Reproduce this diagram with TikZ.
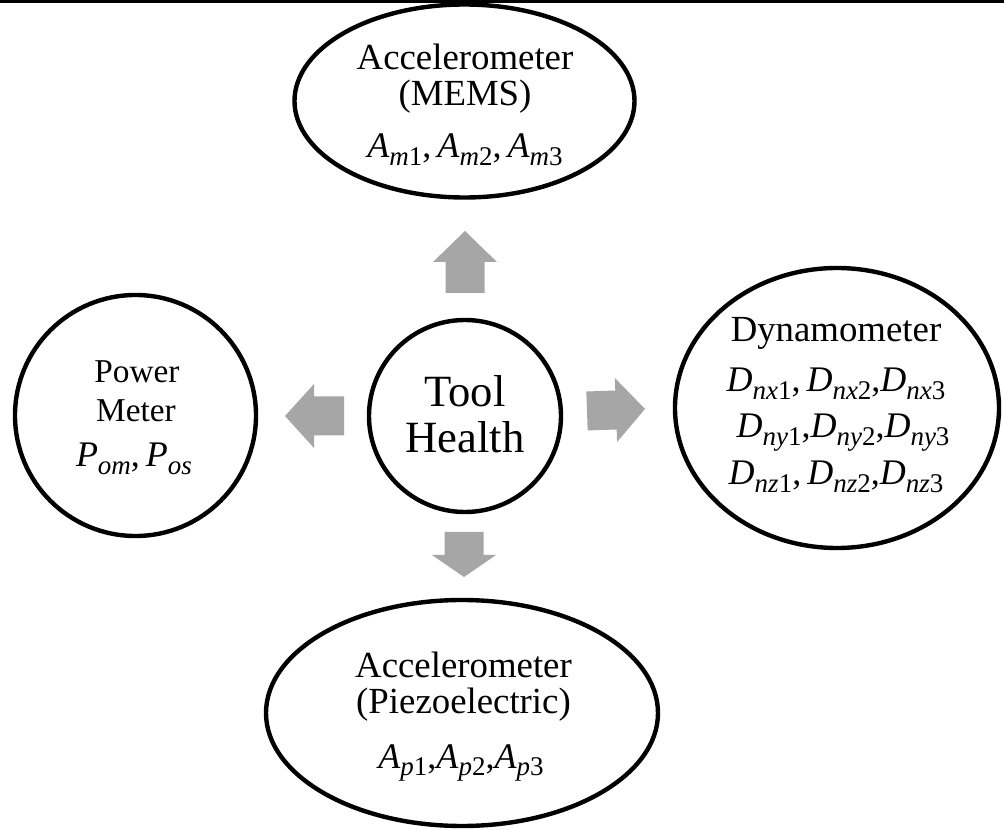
\documentclass[tikz,border=0pt]{standalone}
\usepackage{fontspec}
\usepackage{graphicx}
\setmainfont{Liberation Serif}
\usetikzlibrary{shapes.geometric}
\definecolor{arrowgray}{RGB}{166,166,166}
\newcommand\V[3]{\textit{#1}\raisebox{-0.2em}{\scalebox{0.75}{\textit{#2}#3}}}
\tikzset{
  ring/.style={draw, line width=3.3pt, inner sep=0pt},
  oval/.style={ring, ellipse},
  rnd/.style={ring, circle},
  lbl/.style={anchor=base, inner sep=0pt, font=\fontsize{27.6}{30}\selectfont},
  mlbl/.style={anchor=base, inner sep=0pt, font=\fontsize{27}{30}\selectfont},
  biglbl/.style={anchor=base, inner sep=0pt, font=\fontsize{33.5}{36}\selectfont},
  pmlbl/.style={anchor=base, inner sep=0pt, font=\fontsize{25}{28}\selectfont},
  pics/barrow/.style 2 args={code={
    \fill[arrowgray] (0,-19.5) -- ({#1-#2},-19.5) -- ({#1-#2},-32) -- (#1,0)
      -- ({#1-#2},32) -- ({#1-#2},19.5) -- (0,19.5) -- cycle;}}
}
\begin{document}
\begin{tikzpicture}[x=0.75pt, y=-0.75pt]
\useasboundingbox (0,0) rectangle (1004,830);
\fill[white] (0,0) rectangle (1004,830);
% top rule
\coordinate (ruleL) at (0,1.7);
\coordinate (ruleR) at (1004,1.7);
\draw[line width=2.6pt] (ruleL) -- (ruleR);

% shapes
\node[oval, minimum width=255pt, minimum height=144.75pt] (mems) at (464.5,101) {};
\node[rnd, minimum size=144pt] (tool) at (465,416) {};
\node[rnd, minimum size=180.75pt] (power) at (135.5,415.5) {};
\node[oval, minimum width=243pt, minimum height=210pt] (dyn) at (837,408) {};
\node[oval, minimum width=294pt, minimum height=169.5pt] (piezo) at (462,713) {};

% arrows (rotation is on the page: 90 = up)
\pic[rotate=90] (upA) at (465,293) {barrow={62}{31}};
\pic[rotate=2] (rightA) at (587,411) {barrow={58}{29}};
\pic[rotate=-90] (downA) at (464,532) {barrow={45}{22}};
\pic[rotate=180] (leftA) at (344,416) {barrow={59}{29}};

% texts: MEMS
\node[lbl] (memsT1) at (465,70) {Accelerometer};
\node[lbl] (memsT2) at (465,106) {(MEMS)};
\node[mlbl] (memsT3) at (465,158) {\V{A}{m}{1},\,\V{A}{m}{2},\,\V{A}{m}{3}};

% Tool health
\node[biglbl] (toolT1) at (465,407) {Tool};
\node[biglbl] (toolT2) at (465,453) {Health};

% Power meter
\node[pmlbl] (powT1) at (137,383) {Power};
\node[pmlbl] (powT2) at (136,422) {Meter};
\node[mlbl] (powT3) at (134,467) {\V{P}{om}{},\,\V{P}{os}{}};

% Dynamometer
\node[lbl] (dynT1) at (836,342) {Dynamometer};
\node[mlbl] (dynT2) at (836,392) {\V{D}{nx}{1},\,\V{D}{nx}{2},\V{D}{nx}{3}};
\node[mlbl] (dynT3) at (843,438) {\V{D}{ny}{1},\V{D}{ny}{2},\V{D}{ny}{3}};
\node[mlbl] (dynT4) at (836,485) {\V{D}{nz}{1},\,\V{D}{nz}{2},\V{D}{nz}{3}};

% Piezo
\node[lbl] (pzT1) at (463.5,677) {Accelerometer};
\node[lbl] (pzT2) at (463.5,713) {(Piezoelectric)};
\node[mlbl] (pzT3) at (461,768) {\V{A}{p}{1},\V{A}{p}{2},\V{A}{p}{3}};
\end{tikzpicture}
\end{document}
